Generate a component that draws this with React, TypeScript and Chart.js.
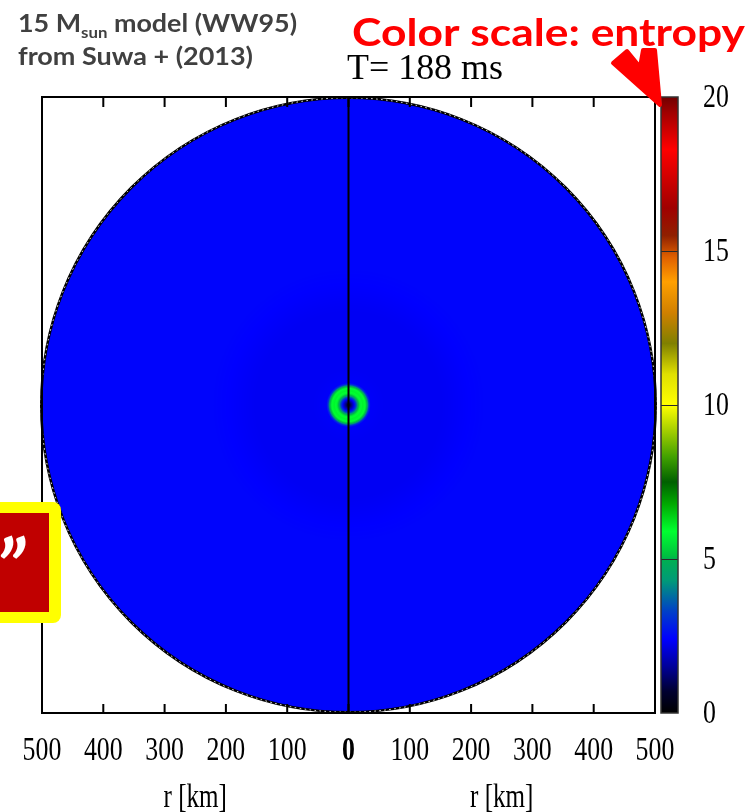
import React, { useEffect, useRef } from "react";
import { Chart, registerables } from "chart.js";

Chart.register(...registerables);

// Radius axis ticks (km), mirrored about the rotation axis
const radiusTicksKm = [-500, -400, -300, -200, -100, 0, 100, 200, 300, 400, 500];
const radiusMaxKm = 500;

// Angle-averaged entropy profile of the core (kB / baryon)
const profileRadiusKm = [0, 4, 9, 13, 16, 19, 23, 27, 30, 33, 36, 60, 150, 220, 500];
const profileEntropy = [0.5, 1.2, 2.3, 3.6, 5.0, 5.8, 6.0, 5.9, 5.0, 3.2, 2.35, 2.3, 2.3, 2.45, 2.45];

// Colour scale for entropy
const entropyStops = [0, 0.7, 1.5, 2.4, 3.3, 4.3, 5.0, 5.1, 5.9, 6.8, 7.5, 8.3, 9.2, 10.0, 11.0, 12.0, 13.0, 14.0, 14.8, 15.5, 16.4, 18.3, 19.5, 20];
const entropyColors = [
  "#000000", "#000030", "#000098", "#0000FF", "#0040C8", "#009A78", "#00B050", "#00C040",
  "#00FF30", "#00A800", "#006000", "#40A000", "#A8D000", "#FFFF00", "#E0E000", "#808000",
  "#D08000", "#FFA000", "#E06000", "#902000", "#A00000", "#FF0000", "#A00000", "#700000",
];
const colorbarTicks = [0, 5, 10, 15, 20];

const timeLabel = "T= 188 ms";
const axisTitle = "r [km]";
const modelLine = ["15 M", "sun", " model (WW95)"];
const sourceLine = "from Suwa + (2013)";
const scaleNote = "Color scale: entropy";
const quoteMark = "\u201D";

function hexToRgb(h: string): number[] {
  const n = parseInt(h.slice(1), 16);
  return [(n >> 16) & 255, (n >> 8) & 255, n & 255];
}

function entropyColor(s: number): string {
  const v = Math.max(entropyStops[0], Math.min(entropyStops[entropyStops.length - 1], s));
  let i = 0;
  while (i < entropyStops.length - 2 && v > entropyStops[i + 1]) i++;
  const t = (v - entropyStops[i]) / (entropyStops[i + 1] - entropyStops[i]);
  const a = hexToRgb(entropyColors[i]);
  const b = hexToRgb(entropyColors[i + 1]);
  const c = a.map((x, k) => Math.round(x + (b[k] - x) * t));
  return `rgb(${c[0]},${c[1]},${c[2]})`;
}

function profileAt(r: number): number {
  for (let i = 0; i < profileRadiusKm.length - 1; i++) {
    if (r <= profileRadiusKm[i + 1]) {
      const t = (r - profileRadiusKm[i]) / (profileRadiusKm[i + 1] - profileRadiusKm[i]);
      return profileEntropy[i] + (profileEntropy[i + 1] - profileEntropy[i]) * t;
    }
  }
  return profileEntropy[profileEntropy.length - 1];
}

const SERIF = "'Liberation Serif', 'Times New Roman', serif";
const SANS = "Lato, 'Open Sans', sans-serif";
const NARROW = 0.76; // horizontal squeeze of the axis lettering

// text stretched horizontally to a set width
function fitText(ctx: CanvasRenderingContext2D, text: string, x: number, y: number, w: number) {
  const m = ctx.measureText(text).width;
  ctx.save();
  ctx.translate(x, y);
  ctx.scale(w / m, 1);
  ctx.fillText(text, 0, 0);
  ctx.restore();
}

// text squeezed by a fixed factor, honouring the current textAlign
function narrowText(ctx: CanvasRenderingContext2D, text: string, x: number, y: number, k = NARROW) {
  ctx.save();
  ctx.translate(x, y);
  ctx.scale(k, 1);
  ctx.fillText(text, 0, 0);
  ctx.restore();
}

const mapDecor = {
  id: "mapDecor",
  beforeDraw(chart: any) {
    const { ctx, width, height } = chart;
    ctx.save();
    ctx.fillStyle = "#ffffff";
    ctx.fillRect(0, 0, width, height);
    ctx.restore();
  },
  beforeDatasetsDraw(chart: any) {
    const { ctx, chartArea: a, scales } = chart;
    const xs = scales.x;
    const ys = scales.y;
    const cs = scales.c;
    const cx = xs.getPixelForValue(0);
    const cy = ys.getPixelForValue(0);
    const rx = xs.getPixelForValue(radiusMaxKm) - cx;
    const ry = cy - ys.getPixelForValue(radiusMaxKm);
    const R = (rx + ry) / 2;

    ctx.save();
    // entropy disk
    const g = ctx.createRadialGradient(cx, cy, 0, cx, cy, R);
    for (let r = 0; r <= radiusMaxKm; r += 1) {
      g.addColorStop(r / radiusMaxKm, entropyColor(profileAt(r)));
    }
    ctx.beginPath();
    ctx.arc(cx, cy, R, 0, Math.PI * 2);
    ctx.fillStyle = g;
    ctx.fill();

    // outer boundary of the computational domain
    ctx.lineWidth = 2.5;
    ctx.strokeStyle = "#000";
    ctx.stroke();
    ctx.setLineDash([1.5, 3.5]);
    ctx.lineWidth = 1;
    ctx.strokeStyle = "#fff";
    ctx.stroke();
    ctx.setLineDash([]);

    // rotation axis
    ctx.beginPath();
    ctx.moveTo(cx, a.top);
    ctx.lineTo(cx, a.bottom);
    ctx.lineWidth = 2;
    ctx.strokeStyle = "#000";
    ctx.stroke();

    // frame
    ctx.lineWidth = 2;
    ctx.strokeRect(a.left, a.top, a.right - a.left, a.bottom - a.top);

    // inward ticks on top and bottom
    ctx.beginPath();
    for (const v of radiusTicksKm) {
      if (Math.abs(v) === radiusMaxKm) continue;
      const px = xs.getPixelForValue(v);
      ctx.moveTo(px, a.top);
      ctx.lineTo(px, a.top + 10);
      ctx.moveTo(px, a.bottom);
      ctx.lineTo(px, a.bottom - 9);
    }
    ctx.stroke();

    // colour bar
    const bx0 = cs.left + 6;
    const bx1 = cs.left + 23;
    const yTop = cs.getPixelForValue(colorbarTicks[colorbarTicks.length - 1]);
    const yBot = cs.getPixelForValue(colorbarTicks[0]);
    const lg = ctx.createLinearGradient(0, yBot, 0, yTop);
    const span = entropyStops[entropyStops.length - 1] - entropyStops[0];
    entropyStops.forEach((s, i) => lg.addColorStop((s - entropyStops[0]) / span, entropyColors[i]));
    ctx.fillStyle = lg;
    ctx.fillRect(bx0, yTop, bx1 - bx0, yBot - yTop);
    ctx.lineWidth = 1;
    ctx.strokeStyle = "#2a2a2a";
    ctx.beginPath();
    for (const t of colorbarTicks) {
      if (t === colorbarTicks[0] || t === colorbarTicks[colorbarTicks.length - 1]) continue;
      const py = Math.round(cs.getPixelForValue(t)) + 0.5;
      ctx.moveTo(bx0, py);
      ctx.lineTo(bx1, py);
    }
    ctx.stroke();
    ctx.lineWidth = 1.5;
    ctx.strokeStyle = "#333";
    ctx.strokeRect(bx0, yTop, bx1 - bx0, yBot - yTop);

    // tick labels of the radius axis and the colour bar
    ctx.fillStyle = "#000";
    ctx.textBaseline = "middle";
    ctx.textAlign = "center";
    for (const v of radiusTicksKm) {
      ctx.font = `${v === 0 ? "bold " : ""}34px ${SERIF}`;
      narrowText(ctx, String(Math.abs(v)), xs.getPixelForValue(v), a.bottom + 38);
    }
    ctx.textAlign = "left";
    ctx.font = `34px ${SERIF}`;
    for (const t of colorbarTicks) {
      narrowText(ctx, String(t), cs.left + 48, cs.getPixelForValue(t) + 1);
    }

    // axis titles for each half
    ctx.textAlign = "center";
    ctx.font = `33px ${SERIF}`;
    narrowText(ctx, axisTitle, xs.getPixelForValue(-radiusMaxKm / 2), a.bottom + 85);
    narrowText(ctx, axisTitle, xs.getPixelForValue(radiusMaxKm / 2), a.bottom + 85);
    ctx.restore();
  },
  afterDraw(chart: any) {
    const { ctx } = chart;
    ctx.save();

    // time stamp
    ctx.fillStyle = "#000";
    ctx.textAlign = "left";
    ctx.textBaseline = "alphabetic";
    ctx.font = `36px ${SERIF}`;
    fitText(ctx, timeLabel, 347, 79, 156);

    // model caption (first line has a subscript)
    ctx.fillStyle = "#404040";
    const big = `bold 24px ${SANS}`;
    const small = `bold 15px ${SANS}`;
    ctx.font = big;
    const w0 = ctx.measureText(modelLine[0]).width;
    const w2 = ctx.measureText(modelLine[2]).width;
    ctx.font = small;
    const w1 = ctx.measureText(modelLine[1]).width;
    const k = 279 / (w0 + w1 + w2);
    ctx.save();
    ctx.translate(18, 0);
    ctx.scale(k, 1);
    ctx.font = big;
    ctx.fillText(modelLine[0], 0, 32);
    ctx.font = small;
    ctx.fillText(modelLine[1], w0, 38);
    ctx.font = big;
    ctx.fillText(modelLine[2], w0 + w1, 32);
    ctx.restore();
    ctx.font = big;
    fitText(ctx, sourceLine, 18, 65, 235);

    // colour scale note
    ctx.fillStyle = "#ff0000";
    ctx.font = `bold 38px ${SANS}`;
    fitText(ctx, scaleNote, 352, 46, 393);

    // arrow pointing at the colour bar
    ctx.beginPath();
    ctx.moveTo(660, 105);
    ctx.lineTo(613, 63);
    ctx.lineTo(627, 51);
    ctx.lineTo(640, 67);
    ctx.lineTo(643, 50);
    ctx.lineTo(655, 50);
    ctx.closePath();
    ctx.fillStyle = "#ff0000";
    ctx.strokeStyle = "#ff0000";
    ctx.lineJoin = "round";
    ctx.lineWidth = 4;
    ctx.fill();
    ctx.stroke();

    // quote box at left edge
    ctx.fillStyle = "#ffff00";
    ctx.beginPath();
    ctx.roundRect(-20, 502, 81, 121, 8);
    ctx.fill();
    ctx.fillStyle = "#c00000";
    ctx.fillRect(-20, 513, 69, 99);
    ctx.fillStyle = "#ffffff";
    ctx.font = `italic bold 80px ${SANS}`;
    ctx.textAlign = "right";
    ctx.fillText(quoteMark, 25, 597);

    ctx.restore();
  },
};

export default function App() {
  const canvasRef = useRef<HTMLCanvasElement | null>(null);

  useEffect(() => {
    if (!canvasRef.current) return;
    const chart = new Chart(canvasRef.current, {
      type: "scatter",
      data: { datasets: [] },
      options: {
        animation: false,
        responsive: false,
        events: [],
        layout: { padding: { left: 42, top: 97, right: 0, bottom: 0 } },
        plugins: { legend: { display: false }, tooltip: { enabled: false }, title: { display: false } },
        scales: {
          x: {
            type: "linear",
            position: "bottom",
            min: radiusTicksKm[0],
            max: radiusTicksKm[radiusTicksKm.length - 1],
            afterBuildTicks: (s: any) => {
              s.ticks = radiusTicksKm.map((v) => ({ value: v }));
            },
            afterFit: (s: any) => {
              s.height = 99;
            },
            grid: { display: false, drawTicks: false },
            border: { display: false },
            ticks: { display: false },
          },
          y: {
            type: "linear",
            display: false,
            min: radiusTicksKm[0],
            max: radiusTicksKm[radiusTicksKm.length - 1],
          },
          c: {
            type: "linear",
            position: "right",
            min: colorbarTicks[0],
            max: colorbarTicks[colorbarTicks.length - 1],
            afterBuildTicks: (s: any) => {
              s.ticks = colorbarTicks.map((v) => ({ value: v }));
            },
            afterFit: (s: any) => {
              s.width = 94;
            },
            grid: { display: false, drawTicks: false },
            border: { display: false },
            ticks: { display: false },
          },
        },
      },
      plugins: [mapDecor],
    });
    return () => chart.destroy();
  }, []);

  return (
    <div style={{ position: "absolute", left: 0, top: 0, width: 749, height: 812 }}>
      <canvas ref={canvasRef} width={749} height={812} style={{ display: "block" }} />
    </div>
  );
}
